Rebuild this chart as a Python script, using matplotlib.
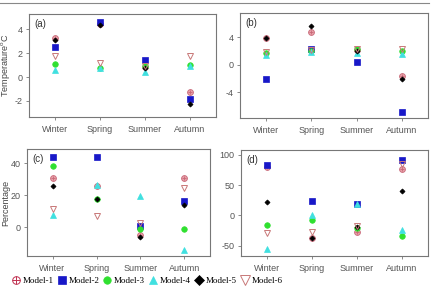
import matplotlib
matplotlib.use("Agg")
import matplotlib.pyplot as plt
from matplotlib.lines import Line2D
from matplotlib.legend_handler import HandlerTuple

seasons = ["Winter", "Spring", "Summer", "Autumn"]
models = ["Model-1", "Model-2", "Model-3", "Model-4", "Model-5", "Model-6"]

# panel (a) temperature
temp_a = {
    "Model-1": [3.3, 4.5, 0.85, -1.26],
    "Model-2": [2.5, 4.64, 1.45, -1.85],
    "Model-3": [1.1, 0.8, 0.95, 1.0],
    "Model-4": [0.6, 0.75, 0.4, 0.95],
    "Model-5": [3.13, 4.4, 0.8, -2.24],
    "Model-6": [1.8, 1.17, 0.9, 1.8],
}
# panel (b) temperature
temp_b = {
    "Model-1": [3.9, 4.8, 2.1, -1.55],
    "Model-2": [-2.04, 2.3, 0.45, -6.9],
    "Model-3": [1.7, 2.0, 2.3, 2.0],
    "Model-4": [1.4, 1.85, 1.65, 1.5],
    "Model-5": [3.93, 5.6, 2.0, -2.1],
    "Model-6": [1.85, 2.1, 2.3, 2.3],
}
# panel (c) percentage
pct_c = {
    "Model-1": [30.8, 25.6, -4.8, 31.0],
    "Model-2": [43.75, 43.75, 0.8, 16.25],
    "Model-3": [38.1, 17.5, -1.25, -1.0],
    "Model-4": [7.9, 26.25, 19.4, -14.4],
    "Model-5": [25.6, 17.5, -6.0, 13.75],
    "Model-6": [11.7, 6.9, 2.9, 24.6],
}
# panel (d) percentage
pct_d = {
    "Model-1": [79.6, -37.0, -27.0, 77.3],
    "Model-2": [82.9, 23.2, 19.3, 91.7],
    "Model-3": [-15.0, -8.3, -21.0, -34.8],
    "Model-4": [-55.0, 1.0, 18.2, -24.3],
    "Model-5": [21.5, -36.5, -18.8, 40.9],
    "Model-6": [-28.7, -27.6, -17.0, 84.5],
}

styles = {
    "Model-1": dict(marker="o", ms=4.2, mfc="#e8a0a8", mec="#c86878", mew=0.6),
    "Model-2": dict(marker="s", ms=4.2, mfc="#1818c8", mec="#1818c8", mew=0.5),
    "Model-3": dict(marker="o", ms=4.0, mfc="#30e030", mec="#30e030", mew=0.5),
    "Model-4": dict(marker="^", ms=4.2, mfc="#40e0e0", mec="#40e0e0", mew=0.5),
    "Model-5": dict(marker="D", ms=2.6, mfc="black", mec="black", mew=0.5),
    "Model-6": dict(marker="v", ms=5.0, mfc="none", mec="#c87878", mew=0.7),
}
legend_ms = {"Model-2": 5.8, "Model-3": 5.4, "Model-4": 6.0, "Model-5": 5.2, "Model-6": 7.5}

W, H = 432, 290
fig = plt.figure(figsize=(W / 100, H / 100), dpi=100)
fig.patch.set_facecolor("white")

# thin gray rule at the top
fig.add_artist(Line2D([0, 429 / W], [1 - 3 / H, 1 - 3 / H], color="#888888", lw=0.8))


def make_ax(l, t, r, b):
    return fig.add_axes([l / W, 1 - b / H, (r - l) / W, (b - t) / H])


panels = [
    (make_ax(29, 14, 216, 117), temp_a, "(a)", (-3.35, 5.3), [-2, 0, 2, 4], "Temperature$^\\mathregular{o}$C", 12),
    (make_ax(240, 13, 428, 118), temp_b, "(b)", (-7.7, 7.5), [-4, 0, 4], None, 0),
    (make_ax(27, 149, 210, 256), pct_c, "(c)", (-17.9, 48.8), [0, 20, 40], "Percentage", 10.5),
    (make_ax(241, 150, 428, 256), pct_d, "(d)", (-67, 108), [-50, 0, 50, 100], None, 0),
]

tick_font = dict(family="Liberation Sans", size=6.5, color="#555555")
for ax, data, tag, ylim, yticks, ylabel, lab_x in panels:
    x = list(range(len(seasons)))
    for m in models:
        ax.plot(x, data[m], ls="none", zorder=3, **styles[m])
        if m == "Model-1":
            ax.plot(x, data[m], ls="none", marker="+", ms=3.2, mec="#c86878", mew=0.6, zorder=3)
    ax.set_xlim(-0.58, 3.58)
    ax.set_ylim(*ylim)
    ax.set_xticks(x)
    ax.set_xticklabels(seasons, fontdict=tick_font)
    ax.set_yticks(yticks)
    ax.set_yticklabels([str(v) for v in yticks], fontdict=tick_font)
    ax.tick_params(length=2.5, width=0.6, color="#777777", pad=2)
    ax.tick_params(axis="x", pad=3)
    for sp in ax.spines.values():
        sp.set_color("#777777")
        sp.set_linewidth(0.8)
    ax.text(0.03, 0.95, tag, transform=ax.transAxes, ha="left", va="top",
            family="Liberation Sans", size=7, color="#333333")
    if ylabel:
        ax.set_ylabel(ylabel, family="Liberation Sans", size=6.5, color="#444444")
        bbox = ax.get_position()
        ax.yaxis.set_label_coords((lab_x / W - bbox.x0) / bbox.width, 0.5)

# legend
handles = []
for m in models:
    if m == "Model-1":
        h = (Line2D([], [], ls="none", marker="o", ms=5.5, mfc="white", mec="#c03050", mew=0.7),
             Line2D([], [], ls="none", marker="+", ms=5.5, mec="#c03050", mew=0.7))
    else:
        st = dict(styles[m])
        st["ms"] = legend_ms[m]
        h = Line2D([], [], ls="none", **st)
    handles.append(h)

fig.legend(handles, models, loc="lower left", bbox_to_anchor=(0.008, -0.012), ncol=6,
           frameon=False, prop=dict(family="Liberation Serif", size=6.5),
           handlelength=0.9, handletextpad=0.3, columnspacing=0.45,
           handler_map={tuple: HandlerTuple(ndivide=1, pad=0)})

fig.savefig("out.png", dpi=100)
